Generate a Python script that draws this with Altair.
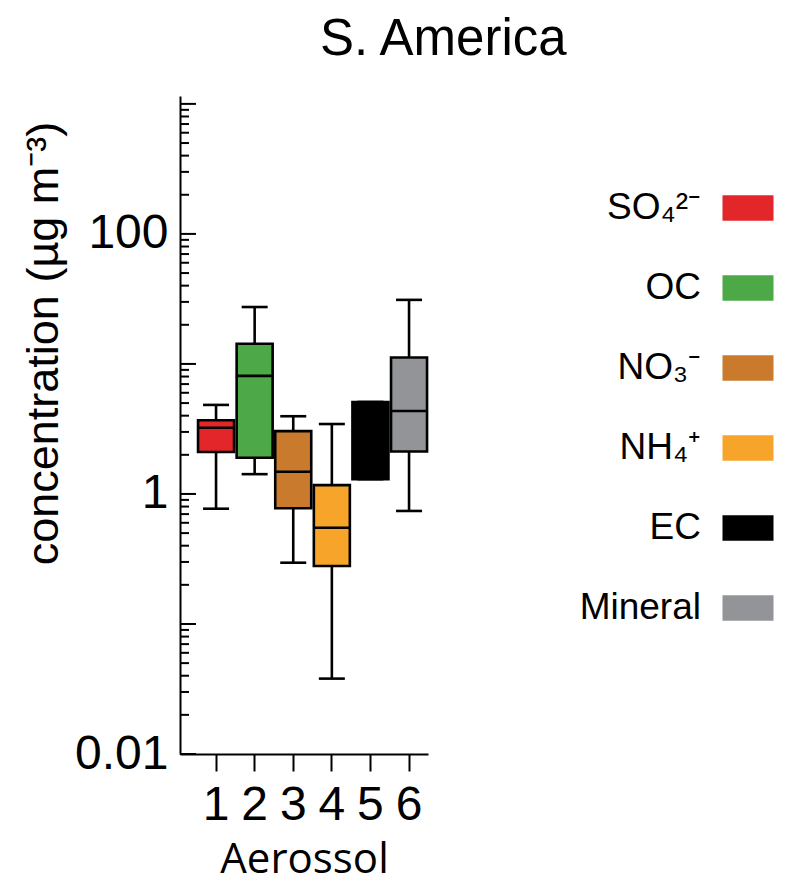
import altair as alt
import pandas as pd

# ---- data ----
categories = ["1", "2", "3", "4", "5", "6"]
species = ["SO₄²⁻", "OC", "NO₃⁻", "NH₄⁺", "EC", "Mineral"]
colors = ["#e2262a", "#4da847", "#c97a2c", "#f7a52a", "#000000", "#929497"]
whisker_low = [0.77, 1.42, 0.296, 0.038, 1.3, 0.74]
q1 = [2.1, 1.9, 0.776, 0.279, 1.3, 2.12]
median = [3.23, 8.09, 1.48, 0.55, 2.6, 4.35]
q3 = [3.69, 14.3, 3.04, 1.17, 5.1, 11.2]
whisker_high = [4.84, 27.4, 3.96, 3.45, 5.1, 31.1]

label_values = [0.01, 1, 100]
major_ticks = [0.01, 0.1, 1, 10, 100, 1000]
minor_multipliers = [2, 3, 4, 5, 6, 7, 8, 9]

FONT = "Liberation Sans"

df = pd.DataFrame({
    "cat": categories, "species": species,
    "low": whisker_low, "q1": q1, "median": median, "q3": q3, "high": whisker_high,
})
minor_vals = [m * d for d in major_ticks[:-1] for m in minor_multipliers]
major_df = pd.DataFrame({"v": major_ticks})
minor_df = pd.DataFrame({"v": minor_vals})

color_scale = alt.Scale(domain=species, range=colors)

x_axis = alt.Axis(
    title="Aerossol", labelAngle=0, labelFont=FONT, labelFontSize=48, labelColor="black",
    labelPadding=10, tickSize=17, tickWidth=2, tickColor="black", domainColor="black",
    domainWidth=2, titleFont="Open Sans", titleFontSize=42, titleFontWeight="normal",
    titleColor="black", titleBaseline="bottom", titleY=127,
)
x_enc = alt.X("cat:N", sort=categories, axis=x_axis,
              scale=alt.Scale(paddingInner=0.067, paddingOuter=0.246, align=0.95))

y_axis = alt.Axis(
    title="concentration (µg m⁻³)", values=label_values,
    labelExpr="datum.value >= 1 ? format(datum.value, 'd') : format(datum.value, '.2f')",
    labelFont=FONT, labelFontSize=48, labelColor="black", labelPadding=12,
    ticks=False, grid=False, domainColor="black", domainWidth=2,
    titleFont=FONT, titleFontSize=45, titleFontWeight="normal", titleColor="black",
    titleAngle=-90, titleAlign="center", titleBaseline="alphabetic", titleX=-123, titleY=247,
)
y_scale = alt.Scale(type="log", domain=[0.01, 1150], nice=False)


def Y(field):
    return alt.Y(f"{field}:Q", scale=y_scale, axis=y_axis)


base = alt.Chart(df)

whiskers = base.mark_rule(color="black", strokeWidth=2.6).encode(
    x=x_enc, y=Y("low"), y2="high")
caps_low = base.mark_tick(color="black", size=26, thickness=2.6, opacity=1).encode(
    x=x_enc, y=Y("low"))
caps_high = base.mark_tick(color="black", size=26, thickness=2.6, opacity=1).encode(
    x=x_enc, y=Y("high"))
boxes = base.mark_bar(stroke="black", strokeWidth=2.6, opacity=1).encode(
    x=x_enc, y=Y("q1"), y2="q3",
    color=alt.Color("species:N", scale=color_scale, legend=None))
medians = base.mark_tick(color="black", size=36, thickness=2.6, opacity=1).encode(
    x=x_enc, y=Y("median"))

minor_rules = alt.Chart(minor_df).mark_rule(color="black", strokeWidth=2).encode(
    y=Y("v"), x=alt.value(0), x2=alt.value(9))
major_rules = alt.Chart(major_df).mark_rule(color="black", strokeWidth=2).encode(
    y=Y("v"), x=alt.value(0), x2=alt.value(16))

main = alt.layer(whiskers, caps_low, caps_high, boxes, medians, minor_rules, major_rules).properties(
    width=248, height=658)

leg_df = pd.DataFrame({"species": species})
leg_y = alt.Y("species:N", sort=species, axis=None,
              scale=alt.Scale(type="point", padding=1, align=0.7))
swatches = alt.Chart(leg_df).mark_point(
    shape="M-1,-0.5H1V0.5H-1Z", size=2601, filled=True, opacity=1, strokeWidth=0
).encode(y=leg_y, x=alt.value(319),
         color=alt.Color("species:N", scale=color_scale, legend=None))
leg_text = alt.Chart(leg_df).mark_text(
    align="right", baseline="middle", font=FONT, fontSize=37, color="black"
).encode(y=leg_y, x=alt.value(272), text="species:N")
legend_chart = alt.layer(swatches, leg_text).properties(width=350, height=560)

chart = alt.hconcat(main, legend_chart, spacing=0).properties(
    title=alt.Title("S. America", font=FONT, fontSize=51, fontWeight="normal",
                    color="black", anchor="start", dx=299, offset=30),
    padding={"left": 20, "top": 14, "right": 5, "bottom": 4},
).configure_view(stroke=None)

chart.save("out.html", embed_options={"renderer": "svg", "actions": False})
